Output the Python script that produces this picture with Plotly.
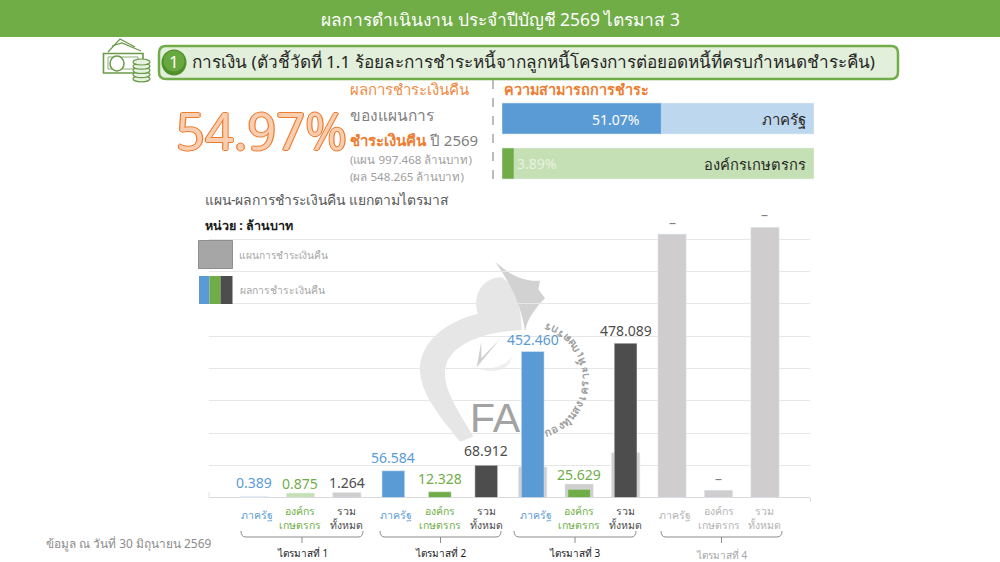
import math
import plotly.graph_objects as go

W, H = 1000, 562
FONT = "Noto Sans, Open Sans, DejaVu Sans, sans-serif"

# ---- data ----
categories = ["ภาครัฐ", "องค์กร<br>เกษตรกร", "รวม<br>ทั้งหมด"] * 4
plan_values = [4, 14, 16, 0, 0, 0, 95, 42, 139, 816, 23, 837]
actual_bar_values = [0.389, 0.875, 1.264, 83, 18, 100, 452.46, 25.629, 478.089, 0, 0, 0]
value_labels = ["0.389", "0.875", "1.264", "56.584", "12.328", "68.912",
                "452.460", "25.629", "478.089", "–", "–", "–"]
quarters = ["ไตรมาสที่ 1", "ไตรมาสที่ 2", "ไตรมาสที่ 3", "ไตรมาสที่ 4"]
capacity_names = ["ภาครัฐ", "องค์กรเกษตรกร"]
capacity_values = [51.07, 3.89]
capacity_total = [100, 100]

# ---- styles ----
BLUE, GREEN, DARK = "#5b9bd5", "#70ad47", "#4d4d4d"
PLAN = "#cfcdcd"
ORANGE = "#ed7d31"
GREY_T = "#7f7f7f"
plan_colors = ["#dbe8f4", "#c5e0b4"] + [PLAN] * 10
actual_colors = [BLUE, GREEN, DARK] * 4
label_colors = [BLUE, GREEN, DARK] * 3 + ["#7f7f7f"] * 3
cat_colors = [BLUE, GREEN, DARK] * 3 + ["#b3b3b3"] * 3
label_shift = [14, 10, 10, 13, 13, 15, 12, 10, 13, 12, 12, 13]

def X(p): return p / W
def Y(p): return 1 - p / H
def path(s):
    """convert pixel-space path commands to paper space"""
    out = []
    for t in s.split():
        if t[0].isalpha():
            out.append(t)
        else:
            a, b = t.split(",")
            out.append(f"{X(float(a)):.5f},{Y(float(b)):.5f}")
    return " ".join(out)

shapes, ann = [], []
def rect(x0, y0, x1, y1, fill, line=None, lw=0, layer="above"):
    shapes.append(dict(type="rect", xref="paper", yref="paper", x0=X(x0), x1=X(x1), y0=Y(y0), y1=Y(y1),
                       fillcolor=fill, line=dict(color=line or fill, width=lw), layer=layer))
def pth(s, fill=None, line=None, lw=1, layer="above"):
    shapes.append(dict(type="path", xref="paper", yref="paper", path=path(s),
                       fillcolor=fill or "rgba(0,0,0,0)",
                       line=dict(color=line or "rgba(0,0,0,0)", width=lw), layer=layer))
def circ(x0, y0, x1, y1, fill=None, line=None, lw=1):
    shapes.append(dict(type="circle", xref="paper", yref="paper", x0=X(x0), x1=X(x1), y0=Y(y1), y1=Y(y0),
                       fillcolor=fill or "rgba(0,0,0,0)", line=dict(color=line or "rgba(0,0,0,0)", width=lw)))
def txt(x, y, s, size, color, anchor="left", bold=False, family=FONT, **kw):
    ann.append(dict(xref="paper", yref="paper", x=X(x), y=Y(y), text=f"<b>{s}</b>" if bold else s,
                    showarrow=False, xanchor=anchor, yanchor="middle",
                    font=dict(size=size, color=color, family=family),
                    align="center" if anchor == "center" else "left", **kw))

# ---- header ----
rect(0, 0, 1000, 37, "#70ad47")
txt(500, 19, "ผลการดำเนินงาน ประจำปีบัญชี 2569 ไตรมาส 3", 17.4, "white", "center")

# ---- title bar ----
pth("M 166,46 L 891,46 Q 898,46 898,53 L 898,72 Q 898,79 891,79 L 166,79 Q 159,79 159,72 L 159,53 Q 159,46 166,46 Z",
    "#e2efda", GREEN, 2.5)
circ(161.5, 49.5, 186.5, 75.5, "#4f8f2c")
circ(163.5, 50.5, 184.5, 71.5, "#69a83f")
txt(174, 61.5, "1", 17, "white", "center")
txt(189.5, 62, "การเงิน (ตัวชี้วัดที่ 1.1 ร้อยละการชำระหนี้จากลูกหนี้โครงการต่อยอดหนี้ที่ครบกำหนดชำระคืน)", 17.15, "#262626")

# ---- money icon ----
G2 = "#6a9a4a"
pth("M 108,52 L 120,39 L 135,47", None, G2, 1.2)
pth("M 112,46 L 122,43 L 141,51", None, G2, 1.2)
pth("M 103.5,53.5 L 143,53.5 L 143,73 L 103.5,73 Z", "white", G2, 1.6)
pth("M 108,57 L 138,57 L 138,69 L 108,69 Z", None, G2, 0.8)
circ(110, 56, 124, 71, "white", G2, 1.5)
for i in range(4, -1, -1):
    y = 59 + i * 4.2
    circ(133, y, 150, y + 6, "#e8f2e0", G2, 1.2)

# ---- KPI block ----
ann.append(dict(xref="paper", yref="paper", x=X(261.5), y=Y(131), text="54.97%", showarrow=False,
                xanchor="center", yanchor="middle",
                font=dict(size=50.5, color="#f9cdb0", family=FONT,
                          shadow="1.2px 0 0 #ed7d31,-1.2px 0 0 #ed7d31,0 1.2px 0 #ed7d31,0 -1.2px 0 #ed7d31")))
txt(348, 89, "ผลการชำระเงินคืน", 15, "#f08a44")
txt(348, 115, "ของแผนการ", 15.5, GREY_T)
txt(348, 140, f"<b><span style='color:{ORANGE}'>ชำระเงินคืน</span></b> ปี 2569", 15, GREY_T)
txt(348, 160, "(แผน 997.468 ล้านบาท)", 11.6, "#a0a0a0")
txt(348, 177, "(ผล 548.265 ล้านบาท)", 11.6, "#a0a0a0")
shapes.append(dict(type="line", xref="paper", yref="paper", x0=X(493), x1=X(493), y0=Y(80), y1=Y(185),
                   line=dict(color="#a6a6a6", width=1.5, dash="dash")))
txt(502, 89, "ความสามารถการชำระ", 14.4, ORANGE, bold=True)
txt(641, 119, "51.07%", 14, "white", "right")
txt(515, 164, "3.89%", 14, "#e8f2e0")
txt(808, 119, capacity_names[0], 15, "#262626", "right")
txt(808, 164, capacity_names[1], 14.7, "#262626", "right")

# ---- chart heading and manual legend ----
txt(203, 199, "แผน-ผลการชำระเงินคืน แยกตามไตรมาส", 13.9, "#595959")
txt(203, 226, "หน่วย : ล้านบาท", 12.5, "#1a1a1a", bold=True)
rect(198.5, 240.5, 232.5, 268.5, "#a6a6a6", "#8f8f8f", 1)
txt(237, 255, "แผนการชำระเงินคืน", 10.2, "#a6a6a6")
rect(199, 276, 209.5, 304, BLUE)
rect(209.5, 276, 220.5, 304, GREEN)
rect(220.5, 276, 232.5, 304, DARK)
txt(238, 290, "ผลการชำระเงินคืน", 10.4, "#a6a6a6")

# ---- watermark ----
WM = "#e6e6e6"
def w(zx, zy): return f"{410 + zx / 3:.1f},{250 + zy / 3:.1f}"
pth(f"M {w(203,192)} C {w(100,215)} {w(25,285)} {w(30,365)} C {w(35,440)} {w(100,510)} {w(150,575)} "
    f"L {w(190,560)} C {w(150,490)} {w(90,410)} {w(108,345)} C {w(125,285)} {w(215,250)} {w(300,243)} "
    f"L {w(335,240)} C {w(335,160)} {w(305,95)} {w(275,82)} C {w(225,82)} {w(185,125)} {w(203,192)} Z", WM, layer="below")
pth(f"M {w(255,35)} C {w(290,65)} {w(330,95)} {w(390,92)} L {w(385,118)} L {w(405,145)} "
    f"C {w(375,175)} {w(350,210)} {w(345,245)} C {w(335,170)} {w(300,95)} {w(255,35)} Z", "#d2d2d2", layer="below")
pth(f"M {w(200,352)} L {w(214,275)} L {w(214,325)} L {w(272,265)} Z", "#cfcfcf", layer="below")
pth(f"M {w(205,355)} C {w(250,360)} {w(290,345)} {w(305,320)} C {w(300,360)} {w(250,375)} {w(205,355)} Z", "#efefef", layer="below")
txt(495, 418, "FA", 41, "#a3a3a3", "center", family="Liberation Sans, sans-serif")
ring_text = ["ก", "อ", "ง", "ทุ", "น", "ส", "ง", "เ", "ค", "ร", "า", "ะ", "ห์", "เ", "ก", "ษ", "ต", "ร", "ก", "ร"]
cx, cy, rr = 529, 380, 55
for k, ch in enumerate(ring_text):
    phi = -70 + 140 * k / (len(ring_text) - 1)
    ann.append(dict(xref="paper", yref="paper", showarrow=False, text=f"<b>{ch}</b>", textangle=-90 - phi,
                    x=X(cx + rr * math.cos(math.radians(phi))), y=Y(cy - rr * math.sin(math.radians(phi))),
                    xanchor="center", yanchor="middle", font=dict(size=11, color="#a0a0a0", family=FONT)))

# ---- brackets and axis ends ----
pth("M 209,497.6 L 209,492", None, "#e3e3e3", 1)
pth("M 810.5,497.6 L 810.5,502", None, "#e3e3e3", 1)
brackets = [(241, 363), (380, 501), (514, 636), (661, 782)]
for a, b in brackets:
    m = (a + b) / 2
    pth(f"M {a},531 Q {a},537 {a+5},537 L {b-5},537 Q {b},537 {b},531 M {m},537 L {m},543", None, "#8c8c8c", 1)
for q, (a, b), c, yy in zip(quarters, brackets, ["#1a1a1a"] * 3 + ["#a6a6a6"], [553, 553, 553, 555]):
    txt((a + b) / 2, yy, q, 10, c, "center")
txt(44, 543, "ข้อมูล ณ วันที่ 30 มิถุนายน 2569", 11.9, "#8c8c8c")

# ---- traces ----
idx = list(range(12))
fig = go.Figure()
fig.add_bar(x=idx, y=plan_values, marker_color=plan_colors, width=0.61, xaxis="x", yaxis="y", hoverinfo="skip")
fig.add_bar(x=idx, y=actual_bar_values, marker_color=actual_colors, width=0.49, xaxis="x", yaxis="y", hoverinfo="skip")
fig.add_bar(y=capacity_names, x=capacity_total, orientation="h", marker_color=["#bdd7ee", "#c5e0b4"],
            width=0.689, xaxis="x2", yaxis="y2", hoverinfo="skip")
fig.add_bar(y=capacity_names, x=capacity_values, orientation="h", marker_color=[BLUE, GREEN],
            width=0.689, xaxis="x2", yaxis="y2", hoverinfo="skip")

for i in idx:
    top = max(plan_values[i], actual_bar_values[i])
    ann.append(dict(xref="x", yref="y", x=i, y=top, yshift=label_shift[i], text=value_labels[i], showarrow=False,
                    yanchor="middle", xanchor="center", font=dict(size=14, color=label_colors[i], family=FONT)))
    ann.append(dict(xref="x", yref="paper", x=i, xshift=3 if i % 3 == 0 else 0, y=Y(515 if i % 3 == 0 else 518),
                    text=categories[i], showarrow=False, yanchor="middle", xanchor="center", align="center",
                    font=dict(size=10.5, color=cat_colors[i], family=FONT)))

fig.update_layout(
    width=W, height=H, margin=dict(l=0, r=0, t=0, b=0), autosize=False,
    paper_bgcolor="white", plot_bgcolor="rgba(0,0,0,0)", barmode="overlay", showlegend=False,
    shapes=shapes, annotations=ann, font=dict(family=FONT),
    xaxis=dict(domain=[X(209), X(810)], range=[-0.969, 11.97], showgrid=False, showticklabels=False,
               zeroline=False, showline=False, ticks="", fixedrange=True),
    yaxis=dict(domain=[Y(497.6), Y(207)], range=[0, 900], dtick=100, gridcolor="#e7e7e7", gridwidth=1,
               showticklabels=False, zeroline=True, zerolinecolor="#d9d9d9", zerolinewidth=1, ticks="", fixedrange=True),
    xaxis2=dict(domain=[X(502), X(814)], range=[0, 100], visible=False, anchor="y2", fixedrange=True),
    yaxis2=dict(domain=[Y(186), Y(96)], range=[1.5, -0.5], visible=False, anchor="x2", type="category", fixedrange=True),
)
fig.write_html("out.html", config=dict(displayModeBar=False),
               post_script="document.body.style.margin='0';document.documentElement.style.overflow='hidden';")
